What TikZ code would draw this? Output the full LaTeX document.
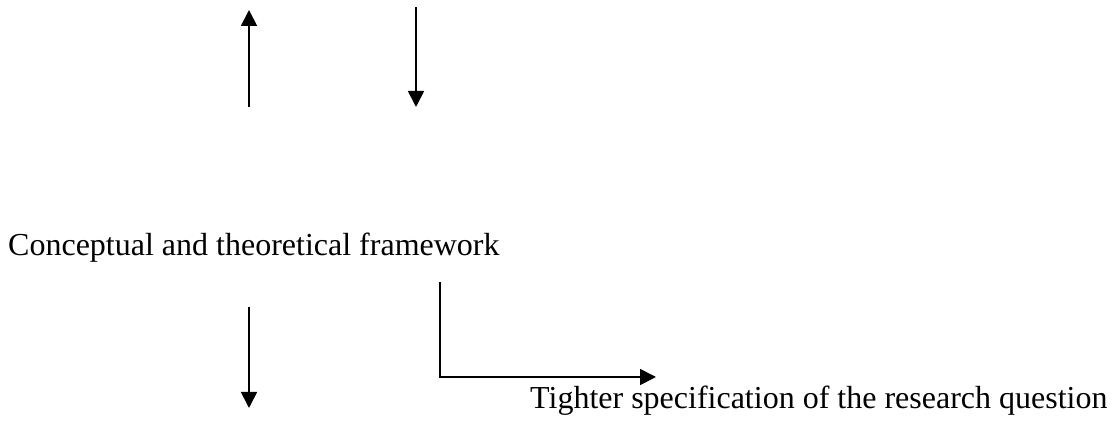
\documentclass[tikz,border=0pt]{standalone}
\usepackage{fontspec}
\setmainfont{Liberation Serif}
\usetikzlibrary{arrows.meta}
\begin{document}
\begin{tikzpicture}[x=1pt,y=-1pt,
  conn/.style={line width=1.8pt,-{Triangle[length=16pt,width=16pt]}},
  lbl/.style={inner sep=0pt,anchor=base west,font=\fontsize{32}{38}\selectfont}]
\useasboundingbox (0,0) rectangle (1112,427);
\node[lbl] (ctf) at (8,256) {Conceptual and theoretical framework};
\node[lbl] (tsq) at (530,409) {Tighter specification of the research question};
\coordinate (a1s) at (249,107);
\coordinate (a1e) at (249,10);
\coordinate (a2s) at (416,7);
\coordinate (a2e) at (416,107);
\coordinate (a3s) at (249,307);
\coordinate (a3e) at (249,408);
\coordinate (e1s) at (440,282);
\coordinate (e1c) at (440,377);
\coordinate (e1e) at (656,377);
\draw[conn] (a1s) -- (a1e);
\draw[conn] (a2s) -- (a2e);
\draw[conn] (a3s) -- (a3e);
\draw[conn] (e1s) -- (e1c) -- (e1e);
\end{tikzpicture}
\end{document}
